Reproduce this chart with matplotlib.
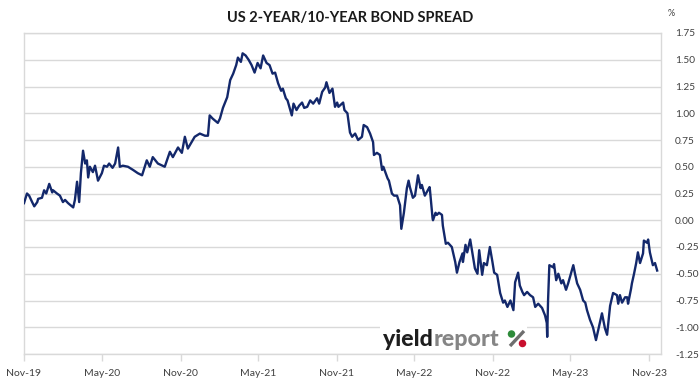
import matplotlib
matplotlib.use("Agg")
import matplotlib.pyplot as plt
import matplotlib.dates as mdates
from matplotlib.ticker import FuncFormatter, MultipleLocator
from matplotlib.patches import Ellipse, Rectangle
from matplotlib.lines import Line2D
import pandas as pd

title = "US 2-YEAR/10-YEAR BOND SPREAD"
unit_label = "%"

dates = [
    "2019-11-01", "2019-11-08", "2019-11-13", "2019-11-20", "2019-11-25", "2019-12-02", "2019-12-04",
    "2019-12-13", "2019-12-18", "2019-12-23", "2019-12-30", "2020-01-06", "2020-01-08", "2020-01-17",
    "2020-01-24", "2020-01-31", "2020-02-05", "2020-02-12", "2020-02-21", "2020-02-24", "2020-02-28",
    "2020-03-04", "2020-03-09", "2020-03-13", "2020-03-18", "2020-03-23", "2020-03-27", "2020-03-30",
    "2020-04-03", "2020-04-10", "2020-04-15", "2020-04-22", "2020-05-01", "2020-05-06", "2020-05-13",
    "2020-05-18", "2020-05-26", "2020-06-01", "2020-06-08", "2020-06-12", "2020-06-19", "2020-07-01",
    "2020-07-13", "2020-07-24", "2020-08-03", "2020-08-14", "2020-08-21", "2020-08-28", "2020-09-09",
    "2020-09-25", "2020-10-07", "2020-10-14", "2020-10-26", "2020-11-04", "2020-11-11", "2020-11-18",
    "2020-12-04", "2020-12-16", "2020-12-28", "2021-01-04", "2021-01-08", "2021-01-15", "2021-01-27",
    "2021-02-01", "2021-02-08", "2021-02-18", "2021-02-25", "2021-03-04", "2021-03-11", "2021-03-15",
    "2021-03-22", "2021-03-26", "2021-04-02", "2021-04-09", "2021-04-16", "2021-04-23", "2021-04-30",
    "2021-05-07", "2021-05-13", "2021-05-21", "2021-05-28", "2021-06-04", "2021-06-10", "2021-06-17",
    "2021-06-24", "2021-06-28", "2021-07-05", "2021-07-09", "2021-07-19", "2021-07-23", "2021-07-30",
    "2021-08-05", "2021-08-12", "2021-08-17", "2021-08-24", "2021-08-31", "2021-09-07", "2021-09-16",
    "2021-09-21", "2021-09-28", "2021-10-05", "2021-10-08", "2021-10-15", "2021-10-22", "2021-10-28",
    "2021-11-02", "2021-11-05", "2021-11-16", "2021-11-19", "2021-11-26", "2021-12-02", "2021-12-07",
    "2021-12-14", "2021-12-21", "2021-12-30", "2022-01-03", "2022-01-11", "2022-01-18", "2022-01-25",
    "2022-01-27", "2022-02-03", "2022-02-10", "2022-02-15", "2022-02-18", "2022-02-28", "2022-03-03",
    "2022-03-10", "2022-03-15", "2022-03-22", "2022-03-29", "2022-04-01", "2022-04-07", "2022-04-14",
    "2022-04-18", "2022-04-21", "2022-04-28", "2022-05-03", "2022-05-10", "2022-05-16", "2022-05-19",
    "2022-05-26", "2022-06-06", "2022-06-07", "2022-06-13", "2022-06-14", "2022-06-20", "2022-06-23",
    "2022-06-28", "2022-07-05", "2022-07-07", "2022-07-14", "2022-07-19", "2022-07-28", "2022-08-05",
    "2022-08-09", "2022-08-15", "2022-08-22", "2022-08-23", "2022-08-29", "2022-09-02", "2022-09-09",
    "2022-09-16", "2022-09-20", "2022-09-26", "2022-09-30", "2022-10-07", "2022-10-11", "2022-10-18",
    "2022-10-25", "2022-10-31", "2022-11-04", "2022-11-11", "2022-11-18", "2022-11-25", "2022-11-29",
    "2022-12-05", "2022-12-12", "2022-12-19", "2022-12-23", "2022-12-30", "2023-01-03", "2023-01-09",
    "2023-01-13", "2023-01-20", "2023-01-27", "2023-02-03", "2023-02-08", "2023-02-15", "2023-02-24",
    "2023-03-03", "2023-03-07", "2023-03-08", "2023-03-10", "2023-03-13", "2023-03-22", "2023-03-24",
    "2023-03-29", "2023-04-03", "2023-04-10", "2023-04-14", "2023-04-21", "2023-04-26", "2023-05-03",
    "2023-05-08", "2023-05-12", "2023-05-17", "2023-05-24", "2023-05-31", "2023-06-05", "2023-06-09",
    "2023-06-16", "2023-06-23", "2023-06-30", "2023-07-05", "2023-07-14", "2023-07-21", "2023-07-26",
    "2023-08-02", "2023-08-09", "2023-08-18", "2023-08-21", "2023-08-25", "2023-08-30", "2023-09-06",
    "2023-09-11", "2023-09-13", "2023-09-20", "2023-09-22", "2023-09-27", "2023-10-02", "2023-10-06",
    "2023-10-11", "2023-10-18", "2023-10-20", "2023-10-27", "2023-10-30", "2023-11-03", "2023-11-10",
    "2023-11-15", "2023-11-20",
]

spread = [
    0.16, 0.25, 0.23, 0.17, 0.13, 0.17, 0.20,
    0.21, 0.28, 0.25, 0.34, 0.26, 0.28, 0.25,
    0.23, 0.17, 0.19, 0.16, 0.13, 0.12, 0.19,
    0.36, 0.17, 0.44, 0.65, 0.53, 0.56, 0.40,
    0.50, 0.45, 0.51, 0.37, 0.44, 0.51, 0.50,
    0.53, 0.49, 0.53, 0.68, 0.50, 0.51, 0.50,
    0.47, 0.44, 0.42, 0.56, 0.50, 0.59, 0.53,
    0.50, 0.64, 0.59, 0.68, 0.63, 0.78, 0.67,
    0.78, 0.81, 0.79, 0.79, 0.98, 0.95, 0.91,
    0.95, 1.05, 1.15, 1.31, 1.37, 1.45, 1.52,
    1.48, 1.56, 1.54, 1.50, 1.45, 1.38, 1.47,
    1.42, 1.54, 1.47, 1.45, 1.37, 1.38, 1.28,
    1.21, 1.23, 1.14, 1.12, 0.98, 1.09, 1.03,
    1.07, 1.10, 1.05, 1.06, 1.12, 1.09, 1.14,
    1.09, 1.20, 1.24, 1.29, 1.19, 1.23, 1.06,
    1.10, 1.06, 1.10, 1.03, 1.00, 0.82, 0.78,
    0.81, 0.75, 0.78, 0.89, 0.87, 0.81, 0.73,
    0.61, 0.63, 0.61, 0.47, 0.50, 0.39, 0.37,
    0.25, 0.23, 0.23, 0.14, -0.08, 0.07, 0.30,
    0.37, 0.31, 0.21, 0.23, 0.42, 0.30, 0.33,
    0.23, 0.31, 0.28, 0.02, 0.00, 0.07, 0.05,
    0.07, 0.05, -0.05, -0.22, -0.21, -0.25, -0.39,
    -0.49, -0.39, -0.31, -0.39, -0.23, -0.30, -0.18,
    -0.35, -0.45, -0.50, -0.28, -0.51, -0.40, -0.42,
    -0.25, -0.39, -0.49, -0.51, -0.68, -0.77, -0.75,
    -0.81, -0.75, -0.84, -0.58, -0.49, -0.61, -0.67,
    -0.70, -0.67, -0.70, -0.72, -0.81, -0.78, -0.82,
    -0.89, -0.96, -1.09, -0.75, -0.42, -0.44, -0.41,
    -0.56, -0.50, -0.59, -0.56, -0.65, -0.59, -0.49,
    -0.42, -0.50, -0.59, -0.65, -0.75, -0.77, -0.84,
    -0.93, -1.00, -1.12, -1.03, -0.87, -1.01, -1.07,
    -0.80, -0.68, -0.70, -0.78, -0.70, -0.77, -0.72,
    -0.72, -0.78, -0.64, -0.59, -0.50, -0.40, -0.30,
    -0.40, -0.31, -0.19, -0.21, -0.18, -0.30, -0.42,
    -0.40, -0.47,
]

x_ticks = ["2019-11-01", "2020-05-01", "2020-11-01", "2021-05-01", "2021-11-01",
           "2022-05-01", "2022-11-01", "2023-05-01", "2023-11-01"]
x_range = ["2019-11-01", "2023-11-29"]
y_range = [-1.25, 1.75]

s = pd.Series(spread, index=pd.to_datetime(dates))

plt.rcParams["font.family"] = ["Lato", "DejaVu Sans"]
W, H = 699, 385
fig = plt.figure(figsize=(W / 100, H / 100), dpi=100)
ax = fig.add_axes([24 / W, 1 - 354 / H, (661 - 24) / W, (354 - 33) / H])

grid_c = "#d9d9d9"
line_c = "#13286b"
label_c = "#404040"

ax.plot(s.index, s.values, color=line_c, lw=1.7, zorder=3, solid_joinstyle="round")

ax.set_xlim(pd.to_datetime(x_range[0]), pd.to_datetime(x_range[1]))
ax.set_ylim(*y_range)
ax.yaxis.set_major_locator(MultipleLocator(0.25))
ax.yaxis.set_major_formatter(FuncFormatter(lambda v, p: f"{v:.2f}"))
ax.yaxis.tick_right()
ax.tick_params(axis="y", length=0, pad=10, labelsize=7.3, labelcolor=label_c)
ax.set_xticks(pd.to_datetime(x_ticks))
ax.xaxis.set_major_formatter(mdates.DateFormatter("%b-%y"))
ax.tick_params(axis="x", length=5, width=1, color=grid_c, pad=6, labelsize=7.5, labelcolor=label_c)
ax.grid(axis="y", color=grid_c, lw=1)
ax.set_axisbelow(True)
for sp in ax.spines.values():
    sp.set_color(grid_c)
    sp.set_linewidth(1)

fig.text(350 / W, 1 - 18 / H, title, ha="center", va="center", fontsize=10.5,
         fontweight="bold", color="#1a1a1a")
fig.text(668 / W, 1 - 13 / H, unit_label, ha="left", va="center", fontsize=6.5, color=label_c)

# watermark logo
fig.patches.append(Rectangle((380 / W, 1 - 352 / H), 147 / W, 26 / H,
                             transform=fig.transFigure, facecolor="white", edgecolor="none", zorder=4))
t1 = fig.text(383 / W, 1 - 346 / H, "yield", ha="left", va="baseline", fontsize=16.7,
              fontweight="black", color="#1e1e1e", zorder=5)
fig.canvas.draw()
bb = t1.get_window_extent(renderer=fig.canvas.get_renderer())
fig.text(bb.x1 / W + 0.5 / W, 1 - 346 / H, "report", ha="left", va="baseline", fontsize=16.7,
         fontweight="black", color="#858585", zorder=5)
fig.lines.append(Line2D([510 / W, 524 / W], [1 - 346 / H, 1 - 331 / H], transform=fig.transFigure,
                        color="#6e6e6e", lw=2.4, solid_capstyle="butt", zorder=5))
fig.patches.append(Ellipse((511.5 / W, 1 - 334 / H), 7.5 / W, 7.5 / H, transform=fig.transFigure,
                           facecolor="#2e8b3a", edgecolor="none", zorder=6))
fig.patches.append(Ellipse((522.5 / W, 1 - 343.5 / H), 7.5 / W, 7.5 / H, transform=fig.transFigure,
                           facecolor="#c8102e", edgecolor="none", zorder=6))

fig.savefig("out.png", dpi=100)
